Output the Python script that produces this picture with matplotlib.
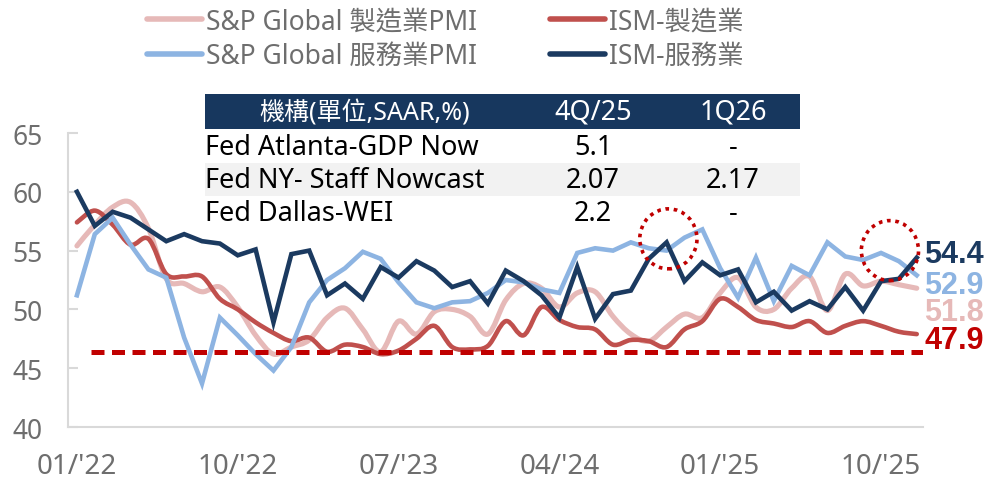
import matplotlib
matplotlib.use("Agg")
import matplotlib.pyplot as plt
from matplotlib.path import Path
from matplotlib.patches import PathPatch, Rectangle, Ellipse
from matplotlib.lines import Line2D

# monthly PMI, 01/2022 - 12/2025
sp_mfg = [55.4, 57.2, 58.7, 59.1, 56.9, 52.6, 52.2, 51.5, 51.9, 50.2, 47.8, 46.2,
          46.8, 47.4, 49.3, 50.1, 48.3, 46.4, 49.0, 47.9, 49.8, 50.0, 49.4, 47.9,
          50.8, 52.2, 51.8, 50.2, 51.4, 51.5, 49.4, 47.9, 47.3, 48.5, 49.6, 49.3,
          51.4, 52.7, 50.2, 50.0, 51.8, 52.8, 49.9, 53.0, 52.0, 52.4, 52.1, 51.8]
ism_mfg = [57.4, 58.4, 57.2, 55.5, 56.0, 53.0, 52.8, 52.8, 50.9, 50.0, 48.9, 48.0,
           47.3, 47.6, 46.4, 47.0, 46.8, 46.2, 46.5, 47.5, 48.6, 46.8, 46.6, 46.9,
           49.0, 47.8, 50.2, 49.1, 48.5, 48.3, 47.0, 47.4, 47.3, 46.8, 48.3, 49.0,
           50.9, 50.2, 49.1, 48.8, 48.5, 49.0, 48.0, 48.6, 49.0, 48.6, 48.1, 47.9]
sp_serv = [51.2, 56.4, 57.8, 55.5, 53.4, 52.7, 47.6, 43.7, 49.3, 47.8, 46.2, 44.8,
           46.8, 50.6, 52.5, 53.5, 54.9, 54.3, 52.3, 50.6, 50.1, 50.6, 50.7, 51.4,
           52.5, 52.3, 51.7, 51.4, 54.8, 55.2, 55.0, 55.7, 55.2, 55.0, 56.1, 56.8,
           53.5, 51.0, 54.4, 50.7, 53.7, 52.9, 55.7, 54.5, 54.2, 54.8, 54.1, 52.9]
ism_serv = [60.0, 57.1, 58.3, 57.8, 56.8, 55.8, 56.4, 55.8, 55.6, 54.6, 55.1, 48.9,
            54.7, 55.0, 51.2, 52.2, 50.9, 53.6, 52.7, 54.1, 53.3, 51.9, 52.4, 50.5,
            53.3, 52.4, 51.2, 49.3, 53.6, 49.2, 51.3, 51.6, 54.3, 55.7, 52.4, 54.0,
            52.9, 53.4, 50.6, 51.5, 49.9, 50.7, 50.0, 51.9, 49.9, 52.4, 52.6, 54.4]
ref_level = 46.4

series_names = ["S&P Global 製造業PMI", "S&P Global 服務業PMI", "ISM-製造業", "ISM-服務業"]
xtick_pos = [0, 9, 18, 27, 36, 45]
xtick_labels = ["01/'22", "10/'22", "07/'23", "04/'24", "01/'25", "10/'25"]
yticks = [40, 45, 50, 55, 60, 65]

table_header = ["機構(單位,SAAR,%)", "4Q/25", "1Q26"]
table_rows = [["Fed Atlanta-GDP Now", "5.1", "-"],
              ["Fed NY- Staff Nowcast", "2.07", "2.17"],
              ["Fed Dallas-WEI", "2.2", "-"]]

PINK = "#E6B9B8"
RED = "#C0504D"
LBLUE = "#8DB4E2"
NAVY = "#1B3A60"
DRED = "#C00000"
GRAY = "#6E6E6E"

plt.rcParams["font.family"] = ["Noto Sans", "Noto Sans CJK TC", "DejaVu Sans"]

W, H = 990, 481
fig = plt.figure(figsize=(W / 100, H / 100), dpi=100)
ax = fig.add_axes([68 / W, 1 - 428 / H, (923 - 68) / W, (428 - 134) / H])


def smooth_path(xs, ys):
    # bezier curve through the points, like a smoothed line in a spreadsheet
    verts = [(xs[0], ys[0])]
    codes = [Path.MOVETO]
    n = len(xs)
    for i in range(n - 1):
        a = max(i - 1, 0)
        b = min(i + 2, n - 1)
        c1 = (xs[i] + (xs[i + 1] - xs[a]) / 6, ys[i] + (ys[i + 1] - ys[a]) / 6)
        c2 = (xs[i + 1] - (xs[b] - xs[i]) / 6, ys[i + 1] - (ys[b] - ys[i]) / 6)
        verts += [c1, c2, (xs[i + 1], ys[i + 1])]
        codes += [Path.CURVE4] * 3
    return Path(verts, codes)


x = list(range(len(ism_serv)))
lw = 3.3
ax.add_patch(PathPatch(smooth_path(x, sp_mfg), fill=False, ec=PINK, lw=lw + 0.4,
                       capstyle="round", joinstyle="round", zorder=2))
ax.add_patch(PathPatch(smooth_path(x, ism_mfg), fill=False, ec=RED, lw=lw,
                       capstyle="round", joinstyle="round", zorder=3))
ax.plot(x, sp_serv, color=LBLUE, lw=lw, zorder=4, solid_joinstyle="miter")
ax.plot(x, ism_serv, color=NAVY, lw=lw, zorder=5, solid_joinstyle="miter")

ax.plot([0.8, 47.35], [ref_level, ref_level], color=DRED, lw=3.6,
        linestyle=(0, (2.6, 1.5)), zorder=6, solid_capstyle="butt")

# dotted circles
for cx, cy in [(33.1, 56.0), (45.5, 55.0)]:
    ax.add_patch(Ellipse((cx, cy), 3.2, 5.1, fill=False, ec=DRED, lw=2.6,
                         linestyle=(0, (1, 1.3)), zorder=7))

ax.set_xlim(-0.5, 47.35)
ax.set_ylim(40, 65)
ax.set_yticks(yticks)
ax.set_xticks(xtick_pos)
ax.set_xticklabels(xtick_labels)
ax.tick_params(axis="y", direction="in", length=7, width=1.5, color="#D9D9D9",
               labelsize=19, labelcolor=GRAY, pad=18)
ax.tick_params(axis="x", length=0, labelsize=20, labelcolor=GRAY, pad=18)
for s in ["top", "right"]:
    ax.spines[s].set_visible(False)
for s in ["left", "bottom"]:
    ax.spines[s].set_color("#D9D9D9")
    ax.spines[s].set_linewidth(1.5)

# end labels (baseline offsets in points)
ends = [(ism_serv, NAVY, -2.9), (sp_serv, LBLUE, -12.7), (sp_mfg, PINK, -22.9),
        (ism_mfg, DRED, -10.0)]
for ser, col, dy in ends:
    ax.annotate(f"{ser[-1]:.1f}", xy=(x[-1], ser[-1]), xytext=(5.5, dy),
                textcoords="offset points", ha="left", va="baseline", color=col,
                fontsize=22, fontweight="bold", family="Liberation Sans",
                annotation_clip=False)

# legend
handles = [Line2D([], [], color=PINK, lw=4, solid_capstyle="round"),
           Line2D([], [], color=LBLUE, lw=4, solid_capstyle="round"),
           Line2D([], [], color=RED, lw=4, solid_capstyle="round"),
           Line2D([], [], color=NAVY, lw=4, solid_capstyle="round")]
leg = fig.legend(handles, series_names, ncol=2, loc="upper left",
                 bbox_to_anchor=(147 / W, 1 - 8 / H), frameon=False, fontsize=19,
                 handlelength=2.1, handletextpad=0.15, columnspacing=2.75,
                 labelspacing=0.28, borderpad=0, borderaxespad=0)
for t in leg.get_texts():
    t.set_color(GRAY)

# table
def fx(px):
    return px / W


def fy(py):
    return 1 - py / H


fig.add_artist(Rectangle((fx(205), fy(130)), fx(800) - fx(205), fy(95) - fy(130),
                         transform=fig.transFigure, fc="#17375E", ec="none", zorder=10))
fig.add_artist(Rectangle((fx(205), fy(197)), fx(800) - fx(205), fy(164) - fy(197),
                         transform=fig.transFigure, fc="#F2F2F2", ec="none", zorder=10))
col_x = [365, 593, 733]
head_size = [18, 19.5, 19.5]
for j in range(3):
    fig.text(fx(col_x[j]), fy(113), table_header[j], color="white", fontsize=head_size[j],
             ha="center", va="center", zorder=11)
row_y = [148, 181, 214]
for r, row in enumerate(table_rows):
    fig.text(fx(205), fy(row_y[r]), row[0], color="black", fontsize=19.5,
             ha="left", va="center", zorder=11)
    for j in (1, 2):
        fig.text(fx(col_x[j]), fy(row_y[r]), row[j], color="black", fontsize=19.5,
                 ha="center", va="center", zorder=11)

fig.savefig("out.png", dpi=100)
